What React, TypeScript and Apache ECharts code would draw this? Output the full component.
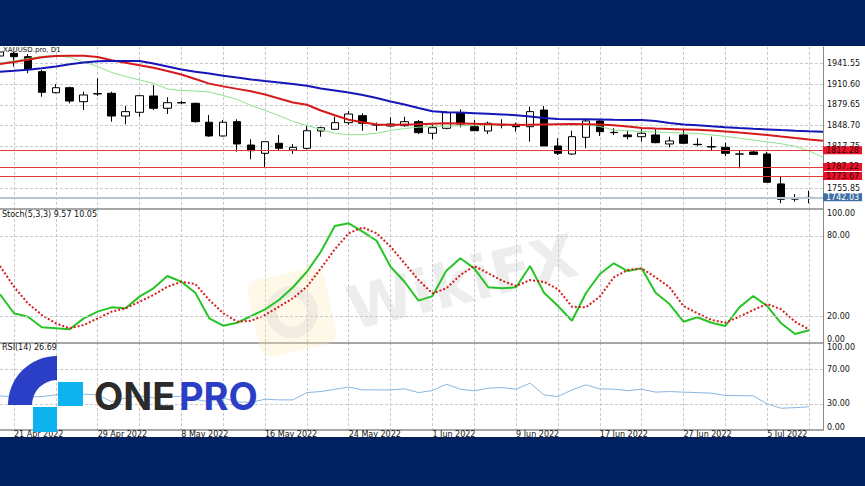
import React, { useEffect, useRef } from "react";
import * as echarts from "echarts";

// ---------- data ----------
const symbolTitle = "XAUUSD.pro, D1";
const dateTicks = [
  "21 Apr 2022", "29 Apr 2022", "8 May 2022", "16 May 2022", "24 May 2022",
  "1 Jun 2022", "9 Jun 2022", "17 Jun 2022", "27 Jun 2022", "5 Jul 2022",
];
const barSlots = 60; // 59 candles + one empty slot on the right

const opens = [
  1952.4, 1956.4, 1951.4, 1929.1, 1897.8, 1905.2, 1884.4, 1895.9, 1896.9, 1863.1,
  1868.6, 1892.9, 1874.6, 1883.0, 1882.0, 1853.8, 1833.4, 1854.7, 1819.9, 1807.6,
  1822.5, 1812.5, 1815.0, 1840.8, 1843.3, 1853.2, 1863.6, 1849.7, 1848.2, 1848.7,
  1854.7, 1837.4, 1844.8, 1868.1, 1847.2, 1840.8, 1849.7, 1850.7, 1847.2, 1872.0,
  1818.5, 1806.6, 1831.4, 1855.7, 1838.3, 1834.9, 1832.3, 1834.9, 1821.5, 1834.9,
  1821.0, 1817.5, 1816.5, 1806.6, 1809.6, 1806.6, 1762.0, 1739.5, 1741.5,
];
const closes = [
  1958.4, 1951.4, 1932.6, 1898.4, 1905.2, 1885.4, 1894.4, 1896.5, 1863.1, 1869.6,
  1893.3, 1874.6, 1882.9, 1882.6, 1854.7, 1833.4, 1853.8, 1821.5, 1811.5, 1824.9,
  1815.0, 1816.5, 1841.2, 1845.7, 1853.2, 1866.1, 1852.3, 1849.9, 1851.2, 1854.7,
  1838.3, 1845.7, 1868.1, 1851.2, 1841.2, 1852.3, 1850.2, 1847.2, 1869.6, 1818.5,
  1807.6, 1832.3, 1855.7, 1839.8, 1838.8, 1832.3, 1837.4, 1823.4, 1826.0, 1822.5,
  1820.5, 1817.0, 1807.6, 1806.4, 1806.0, 1764.5, 1739.2, 1739.8, 1742.03,
];
const lows = [
  1950.0, 1936.5, 1926.7, 1891.8, 1896.9, 1882.0, 1872.0, 1892.9, 1854.7, 1850.8,
  1862.1, 1872.0, 1866.1, 1881.0, 1853.2, 1832.3, 1832.3, 1810.0, 1798.7, 1786.8,
  1812.5, 1806.6, 1813.5, 1832.3, 1843.3, 1849.7, 1841.2, 1841.2, 1847.2, 1847.2,
  1836.3, 1828.4, 1843.3, 1846.3, 1841.2, 1836.3, 1844.8, 1839.8, 1824.9, 1818.5,
  1805.1, 1805.1, 1815.0, 1833.4, 1834.9, 1828.4, 1824.9, 1822.5, 1816.5, 1821.5,
  1818.5, 1812.5, 1803.6, 1785.3, 1805.1, 1764.5, 1733.2, 1735.6, 1733.2,
];
const highs = [
  1961.0, 1958.8, 1955.4, 1931.6, 1910.7, 1906.7, 1899.3, 1919.2, 1899.3, 1878.0,
  1894.4, 1909.3, 1891.0, 1885.9, 1882.9, 1864.6, 1857.2, 1858.2, 1828.4, 1824.9,
  1834.9, 1821.5, 1848.2, 1847.2, 1862.1, 1870.5, 1867.1, 1853.2, 1861.1, 1862.1,
  1857.2, 1849.7, 1870.5, 1873.1, 1857.2, 1854.7, 1858.2, 1853.2, 1877.0, 1878.0,
  1829.9, 1841.2, 1857.2, 1858.2, 1844.8, 1841.2, 1846.3, 1843.3, 1832.3, 1842.3,
  1829.9, 1832.3, 1823.4, 1812.5, 1812.5, 1810.0, 1772.8, 1746.9, 1751.9,
];

const maSlow = [
  1929.0, 1930.4, 1931.9, 1934.1, 1936.8, 1940.1, 1942.7, 1944.5, 1945.0, 1945.0,
  1945.0, 1941.3, 1936.8, 1932.3, 1928.9, 1926.2, 1923.1, 1920.3, 1917.6, 1915.2,
  1913.0, 1910.8, 1908.1, 1904.1, 1901.1, 1898.1, 1894.4, 1889.9, 1884.7, 1880.2,
  1875.0, 1870.1, 1868.8, 1868.2, 1867.3, 1866.4, 1865.5, 1864.3, 1862.4, 1860.2,
  1858.7, 1858.4, 1858.1, 1857.8, 1857.5, 1857.3, 1857.2, 1855.7, 1852.7, 1850.5,
  1849.2, 1847.8, 1846.5, 1845.3, 1844.2, 1843.2, 1842.2, 1841.3, 1840.5, 1839.8,
];
const maMid = [
  1940.5, 1943.5, 1946.8, 1950.5, 1952.4, 1952.7, 1952.7, 1950.9, 1946.0, 1942.3,
  1938.6, 1934.9, 1930.1, 1924.9, 1918.2, 1911.3, 1907.2, 1903.5, 1899.9, 1895.1,
  1889.2, 1883.2, 1879.8, 1871.3, 1864.3, 1857.6, 1853.8, 1850.5, 1849.7, 1850.3,
  1850.9, 1851.7, 1852.3, 1852.0, 1851.5, 1850.9, 1850.3, 1849.7, 1850.2, 1850.6,
  1850.9, 1851.2, 1850.9, 1850.3, 1849.4, 1847.5, 1845.3, 1844.4, 1843.8, 1843.2,
  1842.5, 1841.4, 1840.1, 1838.4, 1836.8, 1834.9, 1832.6, 1830.4, 1828.3, 1826.4,
];
const maFast = [
  1942.0, 1945.0, 1948.7, 1952.0, 1953.2, 1950.2, 1943.5, 1936.8, 1927.9, 1921.9,
  1916.7, 1911.8, 1903.3, 1901.1, 1900.3, 1898.8, 1893.6, 1887.7, 1878.8, 1871.3,
  1863.9, 1855.0, 1849.0, 1843.1, 1837.4, 1835.2, 1835.5, 1837.4, 1841.6, 1844.5,
  1846.5, 1847.4, 1848.1, 1848.6, 1849.3, 1849.7, 1850.0, 1850.3, 1850.5, 1850.6,
  1850.8, 1850.9, 1850.2, 1847.5, 1842.3, 1841.1, 1840.1, 1839.3, 1838.6, 1837.8,
  1837.2, 1834.9, 1832.8, 1830.1, 1827.4, 1824.5, 1821.8, 1818.0, 1811.1, 1801.7,
];

const redLevels = [1812.28, 1787.22, 1773.67];
const bidPrice = 1742.03;
const priceTicks = [1755.85, 1786.8, 1817.75, 1848.7, 1879.65, 1910.6, 1941.55];

const stochMain = [
  36.3, 22.2, 19.6, 11.7, 11.0, 10.2, 18.4, 23.4, 26.6, 25.9,
  34.6, 40.8, 50.0, 45.7, 37.5, 18.4, 12.9, 15.1, 20.1, 25.1,
  32.1, 41.6, 53.2, 68.1, 87.3, 89.3, 83.1, 76.3, 56.9, 45.7,
  31.6, 35.0, 54.0, 63.2, 55.7, 41.6, 40.8, 41.6, 57.5, 37.5,
  27.6, 16.6, 37.1, 51.5, 59.5, 53.7, 55.7, 37.5, 29.1, 15.9,
  19.2, 15.1, 12.7, 26.6, 35.1, 27.6, 14.7, 6.7, 9.57,
];
const stochSignal = [
  57.5, 42.0, 29.6, 20.9, 14.7, 11.0, 13.4, 18.4, 23.4, 25.9,
  30.8, 35.8, 42.0, 45.7, 44.0, 32.1, 22.2, 15.9, 16.6, 20.9,
  27.1, 33.4, 42.0, 55.7, 69.9, 81.9, 86.3, 81.9, 71.9, 59.5,
  47.0, 37.0, 40.8, 50.7, 57.5, 52.0, 46.5, 42.5, 47.0, 45.7,
  40.1, 27.1, 26.6, 34.6, 49.0, 54.5, 55.7, 49.0, 41.6, 27.6,
  22.2, 17.2, 15.1, 19.6, 24.6, 29.1, 25.1, 15.9, 10.05,
];
const stochLevels = [20, 80];
const stochTicks = [0, 20, 80, 100];

const rsi = [
  39.2, 38.1, 38.1, 38.4, 40.4, 40.4, 41.2, 40.4, 32.6, 36.9,
  39.2, 36.9, 38.6, 38.6, 35.2, 32.3, 36.9, 32.3, 31.7, 35.4,
  34.6, 34.6, 43.0, 44.2, 46.7, 49.3, 46.1, 46.1, 46.1, 47.3,
  43.0, 45.3, 52.7, 46.9, 45.0, 48.1, 48.8, 46.9, 53.9, 40.4,
  38.4, 46.1, 51.9, 47.3, 46.9, 45.3, 46.9, 43.5, 44.2, 43.5,
  43.0, 42.3, 39.6, 39.6, 39.2, 30.0, 25.0, 25.7, 26.69,
];
const rsiLevels = [30, 70];
const rsiTicks = [0, 30, 70, 100];

// ---------- styling ----------
const FONT = "DejaVu Sans";
const NAVY = "#01205f";
const GRID_DASH = { color: "#c9c9c9", width: 1, type: [3, 2] as number[] };
const SEP = { color: "#8a8a8a", width: 1.5 };

function buildOption() {
  const categories = Array.from({ length: barSlots }, (_, i) => String(i));
  const candles = opens.map((o, i) => [o, closes[i], lows[i], highs[i]]);
  const vSplit = (i: number) => i % 3 === 1;
  const lbl = (v: number) => v.toFixed(2);

  const xBase = (gridIndex: number, showLabels: boolean) => ({
    type: "category",
    gridIndex,
    data: categories,
    boundaryGap: false,
    axisLine: { show: true, lineStyle: SEP },
    axisTick: { show: false },
    splitLine: { show: true, interval: vSplit, lineStyle: GRID_DASH },
    axisLabel: showLabels
      ? {
          show: true,
          interval: (i: number) => i % 6 === 1,
          formatter: (_v: string, i: number) => dateTicks[(i - 1) / 6] ?? "",
          align: "left",
          margin: 1,
          lineHeight: 6,
          fontSize: 8,
          fontFamily: FONT,
          color: "#111",
          hideOverlap: false,
        }
      : { show: false },
  });

  const edgeRich = (padTop: number, padBottom: number) => ({
    t: { padding: [padTop, 0, 0, 0], lineHeight: 7, fontSize: 8, fontFamily: FONT, color: "#111" },
    b: { padding: [0, 0, padBottom, 0], lineHeight: 7, fontSize: 8, fontFamily: FONT, color: "#111" },
  });

  const levelLine = (levels: number[]) => ({
    symbol: ["none", "none"],
    silent: true,
    label: { show: false },
    lineStyle: GRID_DASH,
    data: levels.map((v) => ({ yAxis: v })),
  });

  const markLabel = (v: number, bg: string, fg: string) => ({
    show: true,
    position: "end",
    distance: 0,
    formatter: () => lbl(v),
    backgroundColor: bg,
    color: fg,
    fontSize: 8,
    fontFamily: FONT,
    padding: [1, 3, 0, 3],
    lineHeight: 7,
  });

  return {
    animation: false,
    backgroundColor: "transparent",
    textStyle: { fontFamily: FONT },
    grid: [
      { left: 0, top: 47, width: 823, height: 162 },
      { left: 0, top: 209, width: 823, height: 134 },
      { left: 0, top: 343, width: 823, height: 87 },
    ],
    xAxis: [xBase(0, false), xBase(1, false), xBase(2, true)],
    yAxis: [
      {
        type: "value",
        gridIndex: 0,
        position: "right",
        min: 1724.7,
        max: 1965.8,
        axisLine: { show: true, lineStyle: { color: "#8a8a8a", width: 1 } },
        axisTick: { show: false, customValues: priceTicks },
        splitLine: { show: true, lineStyle: GRID_DASH },
        axisLabel: {
          customValues: priceTicks,
          formatter: lbl,
          margin: 4,
          lineHeight: 7,
          fontSize: 8,
          fontFamily: FONT,
          color: "#111",
        },
      },
      {
        type: "value",
        gridIndex: 1,
        position: "right",
        min: 0,
        max: 100,
        axisLine: { show: true, lineStyle: { color: "#8a8a8a", width: 1 } },
        axisTick: { show: false, customValues: stochTicks },
        splitLine: { show: false },
        axisLabel: {
          customValues: stochTicks,
          formatter: (v: number) => (v === 100 ? "{t|100.00}" : v === 0 ? "{b|0.00}" : lbl(v)),
          rich: edgeRich(8, 8),
          margin: 4,
          lineHeight: 7,
          fontSize: 8,
          fontFamily: FONT,
          color: "#111",
        },
      },
      {
        type: "value",
        gridIndex: 2,
        position: "right",
        min: 0,
        max: 100,
        axisLine: { show: true, lineStyle: { color: "#8a8a8a", width: 1 } },
        axisTick: { show: false, customValues: rsiTicks },
        splitLine: { show: false },
        axisLabel: {
          customValues: rsiTicks,
          formatter: (v: number) => (v === 100 ? "{t|100.00}" : v === 0 ? "{b|0.00}" : lbl(v)),
          rich: edgeRich(8, 6),
          margin: 4,
          lineHeight: 7,
          fontSize: 8,
          fontFamily: FONT,
          color: "#111",
        },
      },
    ],
    series: [
      {
        type: "candlestick",
        xAxisIndex: 0,
        yAxisIndex: 0,
        data: candles,
        barWidth: 8,
        itemStyle: {
          color: "#ffffff",
          color0: "#000000",
          borderColor: "#000000",
          borderColor0: "#000000",
          borderWidth: 1,
        },
        markLine: {
          symbol: ["none", "none"],
          silent: true,
          z: 10,
          data: [
            ...redLevels.map((v) => ({
              yAxis: v,
              lineStyle: { color: "#e23b3b", width: 1, type: "solid" },
              label: markLabel(v, "#e8142c", "#3b0000"),
            })),
            {
              yAxis: bidPrice,
              lineStyle: { color: "#bcc6cf", width: 2, type: "solid" },
              label: markLabel(bidPrice, "#3f6fa6", "#ffffff"),
            },
          ],
        },
      },
      {
        type: "line",
        xAxisIndex: 0,
        yAxisIndex: 0,
        data: maFast,
        symbol: "none",
        lineStyle: { color: "#8fe08f", width: 1 },
      },
      {
        type: "line",
        xAxisIndex: 0,
        yAxisIndex: 0,
        data: maMid,
        symbol: "none",
        lineStyle: { color: "#d41a1a", width: 2 },
      },
      {
        type: "line",
        xAxisIndex: 0,
        yAxisIndex: 0,
        data: maSlow,
        symbol: "none",
        lineStyle: { color: "#1515b8", width: 2 },
      },
      {
        type: "line",
        xAxisIndex: 1,
        yAxisIndex: 1,
        data: stochMain,
        symbol: "none",
        lineStyle: { color: "#27c427", width: 2 },
        markLine: levelLine(stochLevels),
      },
      {
        type: "line",
        xAxisIndex: 1,
        yAxisIndex: 1,
        data: stochSignal,
        symbol: "none",
        lineStyle: { color: "#d41c1c", width: 2, type: [2, 2] },
      },
      {
        type: "line",
        xAxisIndex: 2,
        yAxisIndex: 2,
        data: rsi,
        symbol: "none",
        lineStyle: { color: "#8ab6df", width: 1 },
        markLine: levelLine(rsiLevels),
      },
    ],
    graphic: [
      // faint watermark
      {
        type: "rect",
        x: 292,
        y: 312,
        rotation: 0.22,
        z: 1,
        silent: true,
        shape: { x: -39, y: -39, width: 78, height: 78, r: 12 },
        style: { fill: "rgba(252,232,180,0.3)" },
      },
      {
        type: "ring",
        x: 292,
        y: 312,
        z: 1,
        silent: true,
        shape: { cx: 0, cy: 0, r: 26, r0: 15 },
        style: { fill: "rgba(210,210,210,0.3)" },
      },
      {
        type: "text",
        x: 462,
        y: 282,
        rotation: 0.24,
        z: 1,
        silent: true,
        style: {
          text: "WikiFX",
          fontFamily: FONT,
          fontWeight: "bold",
          fontSize: 60,
          fill: "rgba(200,200,200,0.33)",
          align: "center",
          verticalAlign: "middle",
        },
      },
      // pane titles
      {
        type: "text",
        x: 3,
        y: 46,
        z: 20,
        style: { text: symbolTitle, fontFamily: FONT, fontSize: 7, fill: "#111", verticalAlign: "top" },
      },
      {
        type: "text",
        x: 2,
        y: 210,
        z: 20,
        style: {
          text: `Stoch(5,3,3) ${stochMain[stochMain.length - 1].toFixed(2)} ${stochSignal[stochSignal.length - 1].toFixed(2)}`,
          fontFamily: FONT,
          fontSize: 8,
          fill: "#111",
          verticalAlign: "top",
        },
      },
      {
        type: "text",
        x: 2,
        y: 343,
        z: 20,
        style: {
          text: `RSI(14) ${rsi[rsi.length - 1].toFixed(2)}`,
          fontFamily: FONT,
          fontSize: 8,
          fill: "#111",
          verticalAlign: "top",
        },
      },
      // ONEPRO logo
      {
        type: "sector",
        z: 50,
        shape: { cx: 57, cy: 405, r0: 25, r: 49, startAngle: Math.PI, endAngle: Math.PI * 1.5, clockwise: true },
        style: { fill: "#2b3ec6" },
      },
      {
        type: "rect",
        z: 50,
        shape: { x: 58, y: 382, width: 25, height: 24 },
        style: { fill: "#0db2ee" },
      },
      {
        type: "rect",
        z: 50,
        shape: { x: 33, y: 407, width: 24, height: 25 },
        style: { fill: "#0db2ee" },
      },
      {
        type: "text",
        x: 94,
        y: 396,
        z: 50,
        style: {
          text: "ONE",
          fontFamily: "Inter",
          fontWeight: 700,
          fontSize: 38,
          fill: "#2b2b2b",
          verticalAlign: "middle",
        },
      },
      {
        type: "text",
        x: 179,
        y: 396,
        z: 50,
        style: {
          text: "PRO",
          fontFamily: "Inter",
          fontWeight: 700,
          fontSize: 38,
          fill: "#2b3ec6",
          verticalAlign: "middle",
        },
      },
    ],
  };
}

export default function App() {
  const ref = useRef<HTMLDivElement>(null);
  useEffect(() => {
    if (!ref.current) return;
    const chart = echarts.init(ref.current, null, { renderer: "svg" });
    chart.setOption(buildOption() as any);
    return () => chart.dispose();
  }, []);
  return (
    <div
      style={{
        position: "fixed",
        left: 0,
        top: 0,
        width: 865,
        height: 486,
        background: NAVY,
        overflow: "hidden",
      }}
    >
      <div style={{ position: "absolute", left: 0, top: 46, width: 865, height: 391, background: "#ffffff" }} />
      <div ref={ref} style={{ position: "absolute", left: 0, top: 0, width: 865, height: 486 }} />
    </div>
  );
}
